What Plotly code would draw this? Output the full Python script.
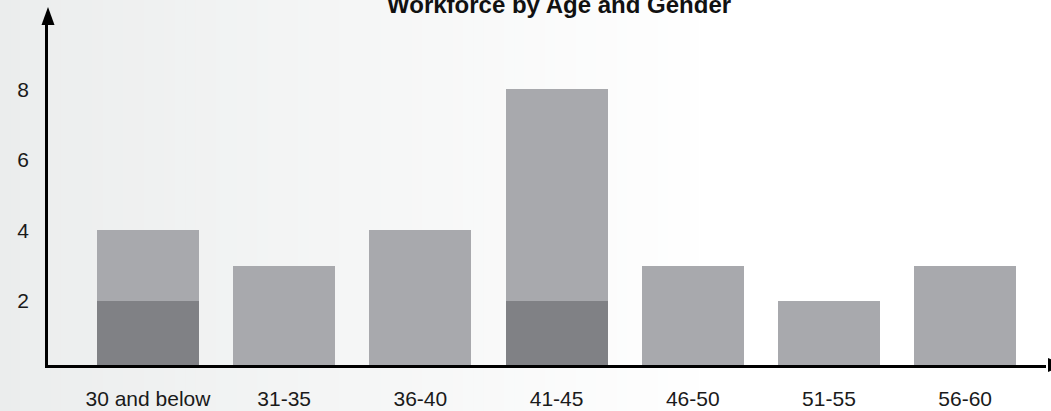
import plotly.graph_objects as go

# Workforce headcount per age band, split by gender
age_bands = ["30 and below", "31-35", "36-40", "41-45", "46-50", "51-55", "56-60"]
female = [2, 0, 0, 2, 0, 0, 0]
male = [2, 3, 4, 6, 3, 2, 3]
y_ticks = [2, 4, 6, 8]

FONT = "Liberation Sans, Arial, sans-serif"
DARK = "#808185"
LIGHT = "#A8A9AD"

fig = go.Figure()
fig.add_trace(go.Bar(x=age_bands, y=female, name="Female",
                     marker=dict(color=DARK, line=dict(width=0))))
fig.add_trace(go.Bar(x=age_bands, y=male, name="Male",
                     marker=dict(color=LIGHT, line=dict(width=0))))

W, H = 1051, 411
ML, MR, MT, MB = 48, 5, 16, 46
plot_w = W - ML - MR
plot_h = H - MT - MB


def px_to_paper_x(px):
    return (px - ML) / plot_w


# soft grey-to-white horizontal wash behind everything
shapes = []
n_strips = 70
fade_px = 720
start = (0xEB, 0xED, 0xED)
for i in range(n_strips):
    x0 = fade_px * i / n_strips
    x1 = fade_px * (i + 1) / n_strips + 1
    t = (i + 0.5) / n_strips
    c = tuple(round(s + (255 - s) * t) for s in start)
    shapes.append(dict(type="rect", xref="paper", yref="paper",
                       x0=px_to_paper_x(x0), x1=px_to_paper_x(x1),
                       y0=-0.3, y1=1.2, line=dict(width=0),
                       fillcolor="rgb(%d,%d,%d)" % c, layer="below"))

# arrowheads at the ends of both axes
shapes.append(dict(type="path", xref="paper", yref="paper",
                   xsizemode="pixel", ysizemode="pixel",
                   xanchor=0, yanchor=1,
                   path="M -6.5 -9 L 6.5 -9 L 0 9 Z",
                   fillcolor="black", line=dict(width=0)))
shapes.append(dict(type="path", xref="paper", yref="paper",
                   xsizemode="pixel", ysizemode="pixel",
                   xanchor=1, yanchor=0,
                   path="M 2 -7 L 2 7 L 20 0 Z",
                   fillcolor="black", line=dict(width=0)))

fig.update_layout(
    width=W, height=H,
    margin=dict(l=ML, r=MR, t=MT, b=MB, pad=0, autoexpand=False),
    barmode="stack",
    bargap=0.25,
    showlegend=False,
    paper_bgcolor="white",
    plot_bgcolor="rgba(0,0,0,0)",
    font=dict(family=FONT, size=21, color="#1a1a1a"),
    shapes=shapes,
    annotations=[dict(text="<b>Workforce by Age and Gender</b>",
                      xref="paper", yref="paper",
                      x=px_to_paper_x(559), y=1 + (MT - 4.5) / plot_h,
                      xanchor="center", yanchor="middle", showarrow=False,
                      font=dict(family=FONT, size=24, color="#111111"))],
)

fig.update_xaxes(
    range=[-0.734, -0.734 + plot_w / 136.2],
    showline=True, linecolor="black", linewidth=2.5,
    showgrid=False, zeroline=False, automargin=False,
    ticks="outside", ticklen=0, ticklabelstandoff=13,
    tickfont=dict(size=21, family=FONT, color="#1a1a1a"),
)
fig.update_yaxes(
    range=[0.18, 10.08],
    tickvals=y_ticks,
    showline=True, linecolor="black", linewidth=2.5,
    showgrid=False, zeroline=False, automargin=False,
    ticks="outside", ticklen=0, ticklabelstandoff=12,
    tickfont=dict(size=21, family=FONT, color="#1a1a1a"),
)

fig.write_html("out.html")
